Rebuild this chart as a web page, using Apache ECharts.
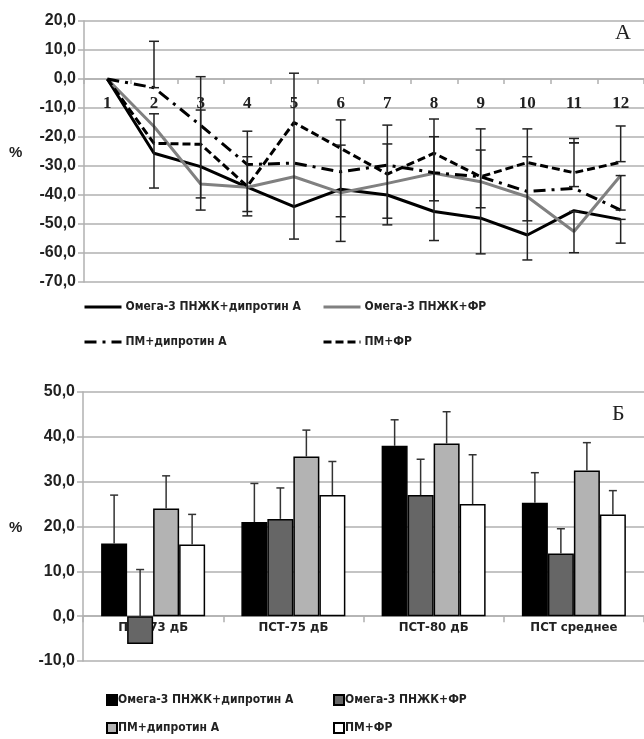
<!DOCTYPE html>
<html>
<head>
<meta charset="utf-8">
<script src="https://cdn.jsdelivr.net/npm/echarts@6/dist/echarts.min.js"></script>
<style>
  html, body { margin: 0; padding: 0; background: #fff; }
  #top { position: absolute; left: 0; top: 0; width: 644px; height: 370px; }
  #bottom { position: absolute; left: 0; top: 370px; width: 644px; height: 369px; }
</style>
</head>
<body>
<div id="top"></div>
<div id="bottom"></div>
<script>
// ---- data: panel A (lines) ----
const weeks = ['1', '2', '3', '4', '5', '6', '7', '8', '9', '10', '11', '12'];
const omegaDip = [0, -25.6, -30.2, -37.3, -44.0, -38.0, -40.0, -45.7, -48.0, -53.8, -45.4, -48.4];
const omegaFr  = [0, -16.4, -36.2, -37.3, -33.7, -39.2, -36.0, -32.5, -35.4, -40.6, -52.6, -33.3];
const pmDip    = [0, -3.0, -16.0, -29.5, -29.0, -32.0, -29.7, -32.3, -33.7, -38.8, -37.7, -45.2];
const pmFr     = [0, -22.2, -22.5, -37.0, -15.0, -23.9, -32.8, -25.6, -33.7, -28.8, -32.3, -28.7];
// error bar segments: [week index, low, high]
const lineErr = [
  [1, -3, 13], [1, -37.6, -12],
  [2, -41, -10.7], [2, -45.2, 0.8],
  [3, -47.2, -18], [3, -45.7, -26.8],
  [4, -55.2, 2],
  [5, -56, -14.1], [5, -47.5, -22.8],
  [6, -50.3, -15.9], [6, -48, -22.4],
  [7, -55.7, -13.8], [7, -42, -19.9],
  [8, -60.3, -17.2], [8, -44.4, -24.5],
  [9, -62.4, -17.2], [9, -48.9, -26.8],
  [10, -37.1, -20.5], [10, -22, -22], [10, -59.9, -45.7],
  [11, -28.5, -16.2], [11, -45.2, -33.3], [11, -56.6, -48.4]
];
const topTicks = [-70, 20, 10];   // min, max, interval

// ---- data: panel Б (bars) ----
const groups = ['ПСТ-73 дБ', 'ПСТ-75 дБ', 'ПСТ-80 дБ', 'ПСТ среднее'];
const barOmegaDip = [16.2, 21.0, 38.0, 25.3];
const barOmegaFr  = [-6.2, 21.7, 27.0, 14.0];
const barPmDip    = [24.0, 35.6, 38.5, 32.5];
const barPmFr     = [16.0, 27.0, 25.0, 22.7];
const errOmegaDip = [27.0, 29.6, 43.8, 32.0];
const errOmegaFr  = [10.4, 28.6, 35.0, 19.5];
const errPmDip    = [31.3, 41.5, 45.6, 38.7];
const errPmFr     = [22.7, 34.5, 36.0, 28.0];
const bottomTicks = [-10, 50, 10];

const names = ['Омега-3 ПНЖК+дипротин А', 'Омега-3 ПНЖК+ФР', 'ПМ+дипротин А', 'ПМ+ФР'];

const SANS = 'DejaVu Sans Condensed, sans-serif';
const fmt = v => v.toFixed(1).replace('.', ',');
const gridColor = '#b0b0b0';

function yAxisCfg(t) {
  return {
    type: 'value', min: t[0], max: t[1], interval: t[2],
    axisLine: { show: true, onZero: false, lineStyle: { color: gridColor, width: 1.5 } },
    axisTick: { show: true, length: 6, lineStyle: { color: gridColor, width: 1.5 } },
    splitLine: { lineStyle: { color: gridColor, width: 1.5 } },
    axisLabel: {
      formatter: fmt, color: '#222', fontWeight: 'bold',
      fontFamily: 'Liberation Sans, sans-serif', fontSize: 16, margin: 8
    }
  };
}

// category axis sitting on the zero line of the value axis
function zeroOffset(t, plotH) {
  return -plotH * (0 - t[0]) / (t[1] - t[0]);
}

function legendAt(name, left, top, w, h, isLine) {
  const l = {
    data: [name], left: left, top: top, itemWidth: w, itemHeight: h, itemGap: 4,
    selectedMode: false, padding: 0,
    textStyle: { fontFamily: SANS, fontSize: 12, fontWeight: 'bold', color: '#222', padding: [0, 0, 0, -1] }
  };
  if (isLine) {
    l.itemStyle = { opacity: 0 };
    l.lineStyle = { width: 3 };
  } else {
    l.icon = 'rect';
    l.textStyle.padding = [0, 0, 0, -4];
  }
  return l;
}

// ---- panel A ----
const chartA = echarts.init(document.getElementById('top'));
const topH = 261;
const lineDefs = [
  { data: omegaDip, color: '#000', type: 'solid' },
  { data: omegaFr, color: '#808080', type: 'solid' },
  { data: pmDip, color: '#000', type: [12, 6, 3, 6] },
  { data: pmFr, color: '#000', type: [8, 4] }
];
chartA.setOption({
  animation: false,
  grid: { left: 84, top: 21, width: 560, height: topH },
  xAxis: {
    type: 'category', data: weeks, boundaryGap: true, position: 'bottom',
    offset: zeroOffset(topTicks, topH),
    axisLine: { onZero: false, lineStyle: { color: gridColor, width: 1.5 } },
    axisTick: { show: true, length: 5, lineStyle: { color: gridColor, width: 1.5 } },
    axisLabel: {
      color: '#222', fontWeight: 'bold', fontFamily: 'Liberation Serif, serif',
      fontSize: 17, margin: 16
    }
  },
  yAxis: yAxisCfg(topTicks),
  legend: [
    legendAt(names[0], 83, 301, 37, 14, true),
    legendAt(names[1], 322, 301, 37, 14, true),
    legendAt(names[2], 83, 336, 37, 14, true),
    legendAt(names[3], 322, 336, 37, 14, true)
  ],
  graphic: [
    { type: 'text', left: 9, top: 145, style: { text: '%', font: 'bold 15px Liberation Sans', fill: '#222' } },
    { type: 'text', left: 615, top: 22, style: { text: 'A', font: '22px Liberation Serif', fill: '#222' } }
  ],
  series: lineDefs.map((d, i) => ({
    name: names[i], type: 'line', data: d.data, symbol: 'none', z: 3,
    lineStyle: { color: d.color, width: 3, type: d.type },
    itemStyle: { color: d.color }
  })).concat([{
    type: 'custom', data: lineErr, z: 4, silent: true,
    encode: { x: 0, y: [1, 2] },
    renderItem: (params, api) => {
      const lo = api.coord([api.value(0), api.value(1)]);
      const hi = api.coord([api.value(0), api.value(2)]);
      const st = { stroke: '#222', lineWidth: 1.5 };
      return {
        type: 'group', children: [
          { type: 'line', shape: { x1: lo[0], y1: lo[1], x2: hi[0], y2: hi[1] }, style: st },
          { type: 'line', shape: { x1: lo[0] - 5, y1: lo[1], x2: lo[0] + 5, y2: lo[1] }, style: st },
          { type: 'line', shape: { x1: hi[0] - 5, y1: hi[1], x2: hi[0] + 5, y2: hi[1] }, style: st }
        ]
      };
    }
  }])
});

// ---- panel Б ----
const chartB = echarts.init(document.getElementById('bottom'));
const bottomH = 269;
const barDefs = [
  { data: barOmegaDip, err: errOmegaDip, color: '#000' },
  { data: barOmegaFr, err: errOmegaFr, color: '#666' },
  { data: barPmDip, err: errPmDip, color: '#b3b3b3' },
  { data: barPmFr, err: errPmFr, color: '#fff' }
];
const BAR_W = 26;
const barErrData = [];
barDefs.forEach((d, k) => d.data.forEach((v, i) => barErrData.push([i, v, d.err[i], k])));

chartB.setOption({
  animation: false,
  grid: { left: 83, top: 22, width: 561, height: bottomH },
  xAxis: {
    type: 'category', data: groups, position: 'bottom',
    offset: zeroOffset(bottomTicks, bottomH),
    axisLine: { onZero: false, lineStyle: { color: gridColor, width: 1.5 } },
    axisTick: { show: true, length: 6, lineStyle: { color: gridColor, width: 1.5 } },
    axisLabel: { color: '#222', fontFamily: SANS, fontSize: 13, fontWeight: 'bold', margin: 5 }
  },
  yAxis: yAxisCfg(bottomTicks),
  legend: [
    legendAt(names[0], 106, 324, 10, 10, false),
    legendAt(names[1], 333, 324, 10, 10, false),
    legendAt(names[2], 106, 352, 10, 10, false),
    legendAt(names[3], 333, 352, 10, 10, false)
  ],
  graphic: [
    { type: 'text', left: 9, top: 150, style: { text: '%', font: 'bold 15px Liberation Sans', fill: '#222' } },
    { type: 'text', left: 612, top: 33, style: { text: 'Б', font: '22px Liberation Serif', fill: '#222' } }
  ],
  series: barDefs.map((d, i) => ({
    name: names[i], type: 'bar', data: d.data, barWidth: BAR_W, barGap: '0%', z: 2,
    itemStyle: { color: d.color, borderColor: '#000', borderWidth: 1.5 }
  })).concat([{
    type: 'custom', data: barErrData, z: 4, silent: true,
    encode: { x: 0, y: [1, 2] },
    renderItem: (params, api) => {
      const off = (api.value(3) - 1.5) * BAR_W;
      const lo = api.coord([api.value(0), Math.max(api.value(1), 0)]);
      const hi = api.coord([api.value(0), api.value(2)]);
      const x = lo[0] + off;
      const st = { stroke: '#333', lineWidth: 1.5 };
      return {
        type: 'group', children: [
          { type: 'line', shape: { x1: x, y1: lo[1], x2: x, y2: hi[1] }, style: st },
          { type: 'line', shape: { x1: x - 4, y1: hi[1], x2: x + 4, y2: hi[1] }, style: st }
        ]
      };
    }
  }])
});
</script>
</body>
</html>
